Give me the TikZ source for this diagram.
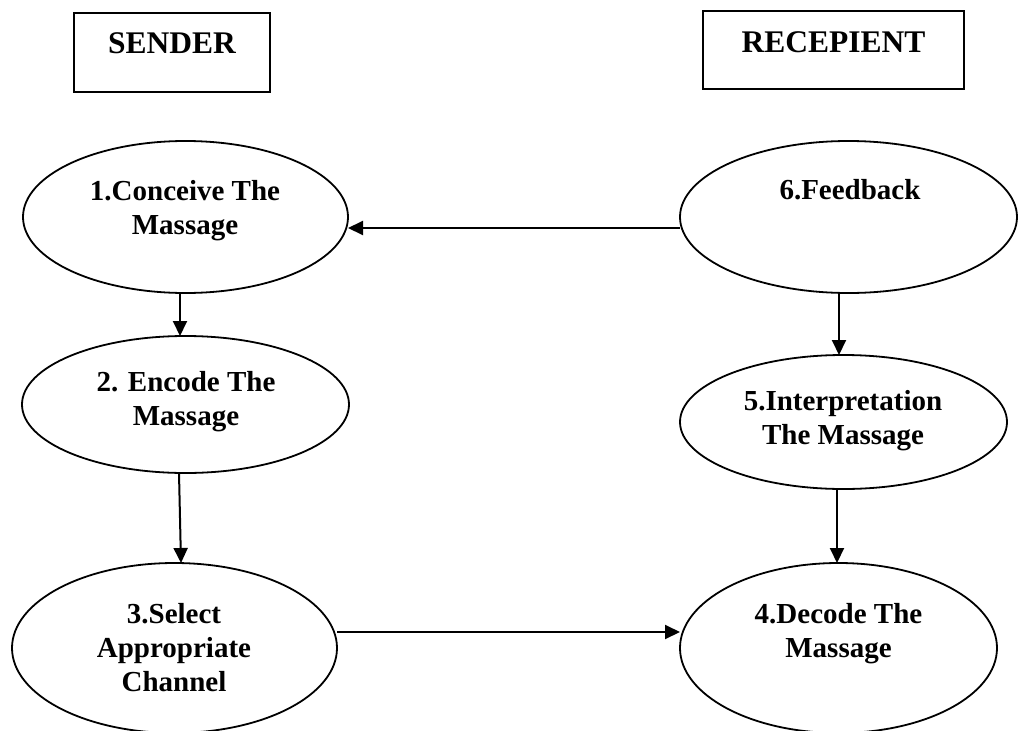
\documentclass[tikz,border=0pt]{standalone}
\usepackage{fontspec}
\setmainfont{Liberation Serif}
\usetikzlibrary{arrows.meta,shapes.geometric}
\begin{document}
\begin{tikzpicture}[x=1pt,y=-1pt,
  every node/.style={inner sep=0pt, outer sep=0pt},
  oval/.style={draw, line width=1.8pt, ellipse},
  hdr/.style={draw, line width=2pt, rectangle, font=\fontsize{31.5}{38}\selectfont\bfseries},
  lbl/.style={align=center, anchor=north, font=\fontsize{29}{34}\selectfont\bfseries},
  arr/.style={line width=2pt, -{Triangle[length=15pt,width=14pt]}}]
\useasboundingbox (0,0) rectangle (1018,731);

% header boxes
\node[hdr, minimum width=196pt, text height=40pt, text depth=39pt] (sender) at (172,52.5) {SENDER};
\node[hdr, minimum width=261pt, text height=41pt, text depth=37pt] (recip) at (833.5,50) {RECEPIENT};

% ellipses
\node[oval, minimum width=325pt, minimum height=152pt] (e1) at (185.5,217) {};
\node[oval, minimum width=337pt, minimum height=152pt] (e6) at (848.5,217) {};
\node[oval, minimum width=327pt, minimum height=137pt] (e2) at (185.5,404.5) {};
\node[oval, minimum width=327pt, minimum height=134pt] (e5) at (843.5,422) {};
\node[oval, minimum width=325pt, minimum height=170pt] (e3) at (174.5,648) {};
\node[oval, minimum width=317pt, minimum height=170pt] (e4) at (838.5,648) {};

% labels
\node[lbl] (t1) at (185,180) {1.Conceive The\\Massage};
\node[lbl] (t6) at (850,179) {6.Feedback};
\node[lbl] (t2) at (186,371) {2. Encode The\\Massage};
\node[lbl] (t5) at (843,390) {5.Interpretation\\The Massage};
\node[lbl] (t3) at (174,603) {3.Select\\Appropriate\\Channel};
\node[lbl] (t4) at (838.5,603) {4.Decode The\\Massage};

% connectors
\draw[arr] ([xshift=-5.5pt]e1.south) -- ([xshift=-5.5pt]e2.north);
\draw[arr] ([xshift=-6.5pt]e2.south) -- ([xshift=6.5pt]e3.north);
\draw[arr] ([yshift=16pt]e3.east) -- ([yshift=16pt]e4.west);
\draw[arr] ([xshift=-6.5pt]e5.south) -- ([xshift=-1.5pt]e4.north);
\draw[arr] ([xshift=-9.5pt]e6.south) -- ([xshift=-4.5pt]e5.north);
\draw[arr] ([yshift=-11pt]e6.west) -- ([yshift=-11pt]e1.east);
\end{tikzpicture}
\end{document}
